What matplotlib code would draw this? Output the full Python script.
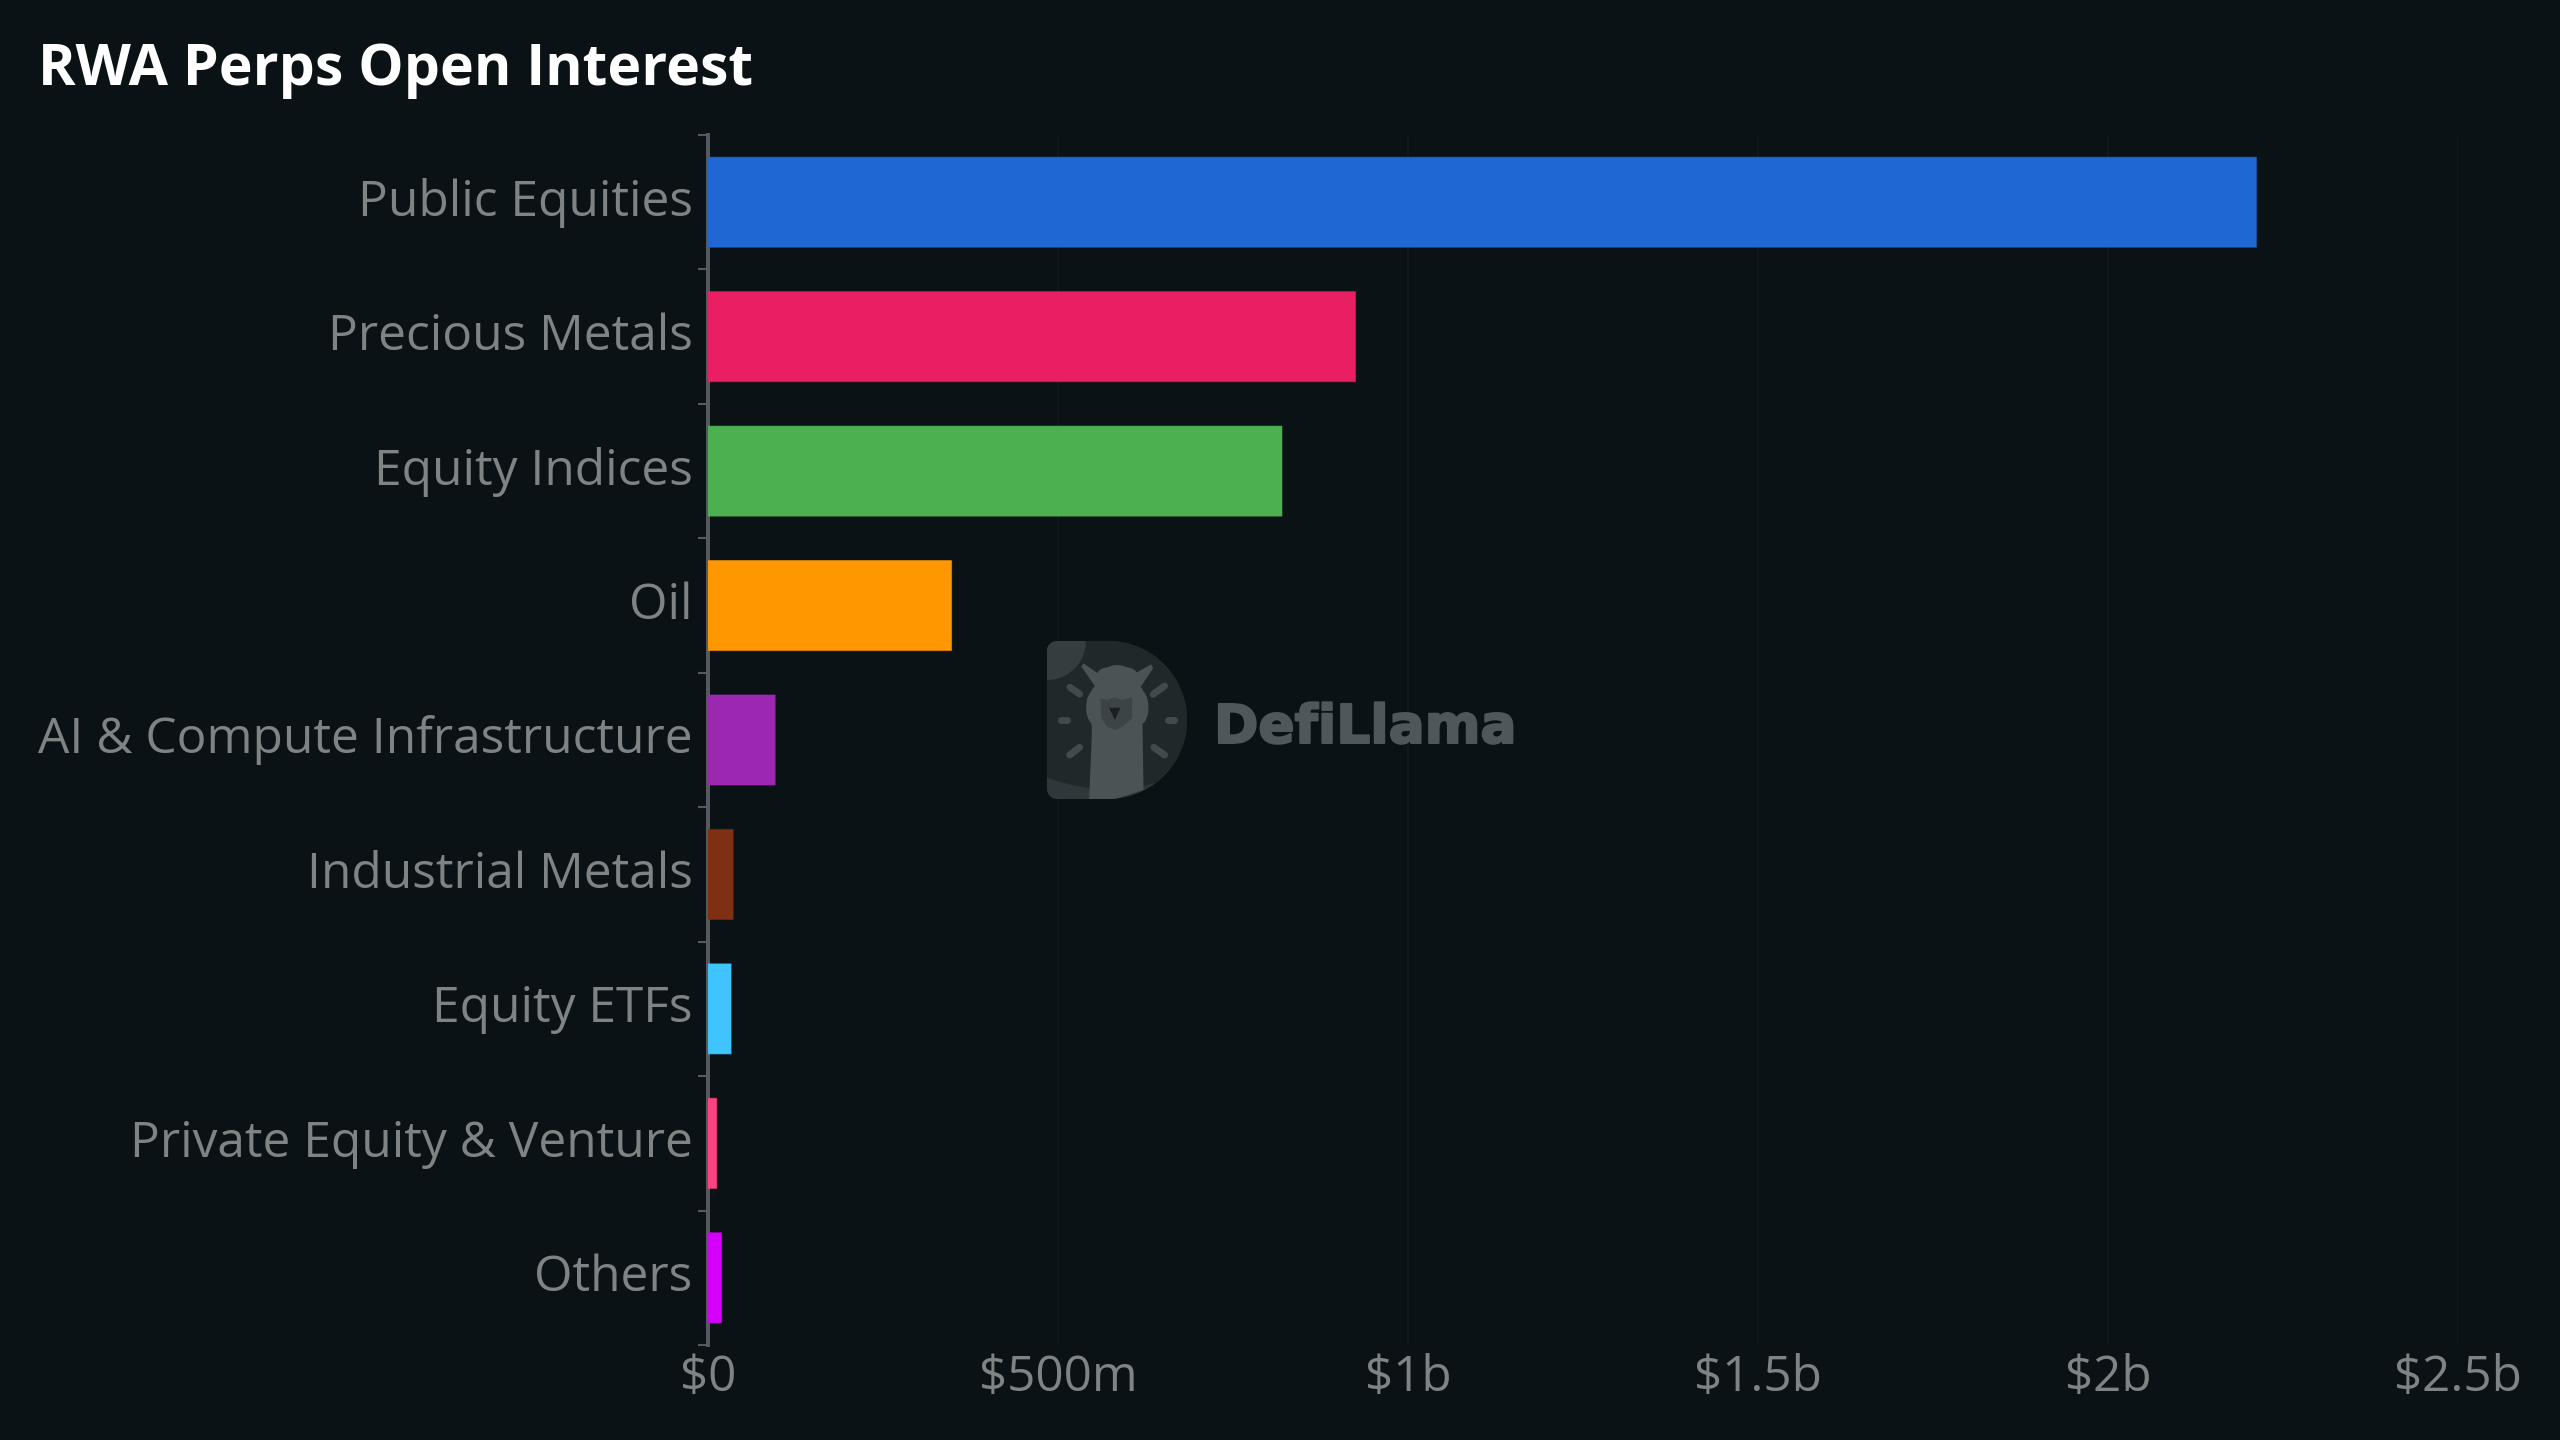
import numpy as np
import matplotlib
matplotlib.use("Agg")
import matplotlib.pyplot as plt
from matplotlib.colors import to_rgba
from matplotlib.patches import Polygon
from matplotlib.lines import Line2D
from matplotlib.transforms import ScaledTranslation
import matplotlib.patheffects as pe

categories = ["Public Equities", "Precious Metals", "Equity Indices", "Oil",
              "AI & Compute Infrastructure", "Industrial Metals", "Equity ETFs",
              "Private Equity & Venture", "Others"]
values = [2.212e9, 0.925e9, 0.82e9, 0.348e9, 0.096e9, 0.036e9, 0.033e9, 0.0125e9, 0.0195e9]
colors = ["#1f67d2", "#e91e63", "#4caf50", "#ff9800", "#9c27b0", "#7f2f12", "#40c4ff", "#ff4081", "#d500f9"]
tick_values = [0, 0.5e9, 1e9, 1.5e9, 2e9, 2.5e9]
tick_labels = ["$0", "$500m", "$1b", "$1.5b", "$2b", "$2.5b"]
title = "RWA Perps Open Interest"

W, H = 2560, 1440
BG = "#0b1215"
TXT = "#808383"
AXC = "#55595e"
plt.rcParams['font.family'] = ['Open Sans', 'DejaVu Sans']
fig = plt.figure(figsize=(W / 100, H / 100), dpi=100, facecolor=BG)
ax = fig.add_axes([708 / W, 1 - 1345 / H, 1750 / W, 1210 / H], facecolor="none")

y = np.arange(len(categories))
bars = ax.barh(y, values, height=0.67, color=colors, zorder=3,
               edgecolor=[to_rgba(c, 0.55) for c in colors], linewidth=0.7)
for b in bars:
    b.set_snap(False)
ax.set_ylim(len(categories) - 0.5, -0.5)
ax.set_xlim(0, 2.5e9)
ax.set_xticks(tick_values)
ax.set_xticklabels(tick_labels, fontsize=35.6, color=TXT)
ax.set_yticks(y)
ax.set_yticklabels(categories, fontsize=35.7, color=TXT)
ax.set_yticks(np.arange(len(categories) + 1) - 0.5, minor=True)
ax.tick_params(axis="y", which="major", length=0, pad=11)
ax.tick_params(axis="y", which="minor", length=7, width=1.5, color=AXC)
ax.tick_params(axis="x", length=0, pad=6)
ax.grid(axis="x", color="#131a1d", linewidth=1.2, zorder=0)
ax.set_axisbelow(True)
for s in ["top", "right", "bottom"]:
    ax.spines[s].set_visible(False)
ax.spines["left"].set_color(AXC)
ax.spines["left"].set_linewidth(2.9)
ax.spines["left"].set_zorder(2)

shift = ScaledTranslation(0, 5.5 / 100, fig.dpi_scale_trans)
for lab in ax.get_yticklabels():
    lab.set_transform(lab.get_transform() + shift)

fig.text(38 / W, 1 - 85 / H, title, fontsize=41.1, fontweight="bold", color="white", ha="left", va="baseline")

# watermark, laid out in figure pixels
def P(x, yy):
    return (x / W, 1 - yy / H)

def C(cx, cy):
    return (1000 + cx / 2.613, 600 + cy / 3)

def fig_poly(pts, color, clip=None, z=1):
    p = Polygon([P(*q) for q in pts], closed=True, transform=fig.transFigure, facecolor=color, edgecolor="none", zorder=z)
    fig.add_artist(p)
    if clip is not None:
        p.set_clip_path(clip)
    return p

def arc(cx, cy, rx, ry, a0, a1, n=40):
    t = np.radians(np.linspace(a0, a1, n))
    return [(cx + rx * np.cos(a), cy + ry * np.sin(a)) for a in t]

d_pts = (arc(1057, 651, 10, 10, 180, 270, 10) + arc(1108, 720, 79, 79, -90, 90, 60) + arc(1057, 789, 10, 10, 90, 180, 10))
d_shape = fig_poly(d_pts, "#30373a", z=1)
fig_poly(arc(1110, 610, 179, 179, 0, 360, 120), "#212829", clip=d_shape, z=1.1)
fig_poly(arc(1047, 641, 39, 39, 0, 360, 60), "#363d3f", clip=d_shape, z=1.2)

LL = "#4c5354"
llama = [(233, 597), (240, 400), (238, 340), (250, 262), (213, 200), (218, 190), (262, 225),
         (345, 225), (395, 193), (400, 205), (365, 265), (372, 340), (375, 570), (300, 597)]
fig_poly([C(*q) for q in llama], LL, clip=d_shape, z=1.3)
for cx, cy, rx, ry in [(306, 222, 14, 9), (282, 226, 11, 8), (330, 226, 11, 8),
                       (246, 322, 8, 17), (367, 322, 8, 17), (258, 285, 8, 10), (355, 285, 8, 10)]:
    c = C(cx, cy)
    fig_poly(arc(c[0], c[1], rx, ry, 0, 360, 30), LL, z=1.31)
face = [(262, 295), (280, 300), (300, 292), (320, 300), (345, 292), (345, 355), (320, 380), (300, 390), (280, 380), (265, 355)]
fig_poly([C(*q) for q in face], "#3d4445", z=1.4)
nose = [(285, 323), (315, 323), (300, 360)]
fig_poly([C(*q) for q in nose], "#1a2022", z=1.5)
for (a, b) in [((183, 262), (208, 282)), ((430, 258), (400, 283)), ((160, 360), (176, 360)),
               ((439, 360), (454, 360)), ((182, 465), (208, 442)), ((402, 442), (430, 465))]:
    pa, pb = P(*C(*a)), P(*C(*b))
    fig.add_artist(Line2D([pa[0], pb[0]], [pa[1], pb[1]], transform=fig.transFigure, color="#434a4b",
                          linewidth=5, solid_capstyle="round", zorder=1.5))
wm = fig.text(1214 / W, 1 - 743 / H, "DefiLlama", fontsize=38.5, fontweight="bold", family=["DejaVu Sans"],
              color="#50575a", ha="left", va="baseline", zorder=1.6)
wm.set_path_effects([pe.withStroke(linewidth=1.5, foreground="#50575a")])

fig.savefig("out.png", dpi=100, facecolor=BG)
